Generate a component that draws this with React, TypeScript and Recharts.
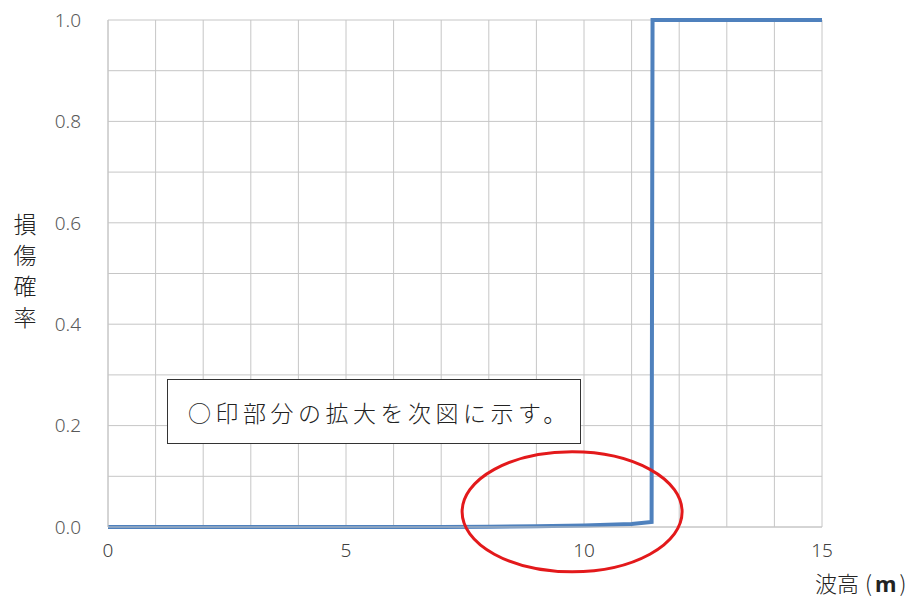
import React from 'react';
import { LineChart, Line, XAxis, YAxis, CartesianGrid, ReferenceDot } from 'recharts';

const waveHeights = [0, 7, 8, 9, 10, 11, 11.42, 11.44, 15];
const damageProb = [0.0, 0.0, 0.0005, 0.0015, 0.003, 0.006, 0.01, 1.0, 1.0];
const xTicks = [0, 1, 2, 3, 4, 5, 6, 7, 8, 9, 10, 11, 12, 13, 14, 15];
const yTicks = [0, 0.1, 0.2, 0.3, 0.4, 0.5, 0.6, 0.7, 0.8, 0.9, 1.0];
const xLabelTicks = [0, 5, 10, 15];
const yLabelTicks = [0, 0.2, 0.4, 0.6, 0.8, 1.0];
const yAxisTitle = '損傷確率';
const xAxisTitle = '波高';
const xAxisUnit = 'm';
const noteText = '○印部分の拡大を次図に示す。';
const highlight = { x: 9.75, y: 0.03 };

const data = waveHeights.map((x, i) => ({ x, p: damageProb[i] }));

const font = '"Noto Sans", "Noto Sans CJK JP", sans-serif';
const cjk = '"Noto Sans CJK JP", sans-serif';

const Ellipse = (props: any) => {
  const { cx, cy } = props;
  if (cx == null || cy == null) return null;
  return <ellipse cx={cx} cy={cy} rx={110} ry={60} fill="none" stroke="#e3191b" strokeWidth={3} />;
};

export default function App() {
  return (
    <div style={{ position: 'absolute', left: 0, top: 0, width: 917, height: 601, background: '#fff' }}>
      <LineChart width={917} height={601} data={data} margin={{ top: 20, right: 95, bottom: 44, left: 48 }}>
        <CartesianGrid stroke="#c6c6c6" strokeWidth={1} />
        <XAxis
          dataKey="x"
          type="number"
          domain={[0, 15]}
          ticks={xTicks}
          interval={0}
          height={30}
          tickLine={false}
          tickSize={0}
          tickMargin={17}
          axisLine={{ stroke: '#c6c6c6' }}
          tickFormatter={(v: number) => (xLabelTicks.includes(v) ? String(v) : '')}
          tick={{ fill: '#404040', fontSize: 19, fontFamily: font, fontWeight: 300 }}
        />
        <YAxis
          type="number"
          domain={[0, 1]}
          ticks={yTicks}
          interval={0}
          width={60}
          tickLine={false}
          tickSize={0}
          tickMargin={27}
          axisLine={{ stroke: '#c6c6c6' }}
          tickFormatter={(v: number) => (yLabelTicks.some((t) => Math.abs(t - v) < 1e-9) ? v.toFixed(1) : '')}
          tick={{ fill: '#595959', fontSize: 19, fontFamily: font, fontWeight: 300 }}
        />
        <Line
          type="linear"
          dataKey="p"
          stroke="#4f81bd"
          strokeWidth={4}
          dot={false}
          isAnimationActive={false}
        />
        <ReferenceDot x={highlight.x} y={highlight.y} ifOverflow="visible" shape={Ellipse} />
      </LineChart>
      <div
        style={{
          position: 'absolute',
          left: 167,
          top: 379,
          width: 414,
          height: 65,
          border: '1.5px solid #333',
          background: '#fff',
          boxSizing: 'border-box',
          display: 'flex',
          alignItems: 'center',
          paddingLeft: 20,
          fontFamily: cjk,
          fontWeight: 300,
          fontSize: 23,
          letterSpacing: 4.5,
          color: '#222',
          whiteSpace: 'nowrap',
        }}
      >
        {noteText}
      </div>
      <div
        style={{
          position: 'absolute',
          left: 12,
          top: 208,
          width: 26,
          fontFamily: cjk,
          fontWeight: 300,
          fontSize: 23,
          lineHeight: '31px',
          color: '#222',
          textAlign: 'center',
          wordBreak: 'break-all',
        }}
      >
        {yAxisTitle}
      </div>
      <div
        style={{
          position: 'absolute',
          left: 815,
          top: 567,
          fontFamily: cjk,
          fontWeight: 300,
          fontSize: 22,
          lineHeight: '30px',
          color: '#222',
          whiteSpace: 'nowrap',
        }}
      >
        {xAxisTitle}
        <span style={{ marginLeft: 6, marginRight: 3 }}>(</span>
        <span style={{ fontWeight: 'bold', fontFamily: font }}>{xAxisUnit}</span>
        <span style={{ marginLeft: 3 }}>)</span>
      </div>
    </div>
  );
}
